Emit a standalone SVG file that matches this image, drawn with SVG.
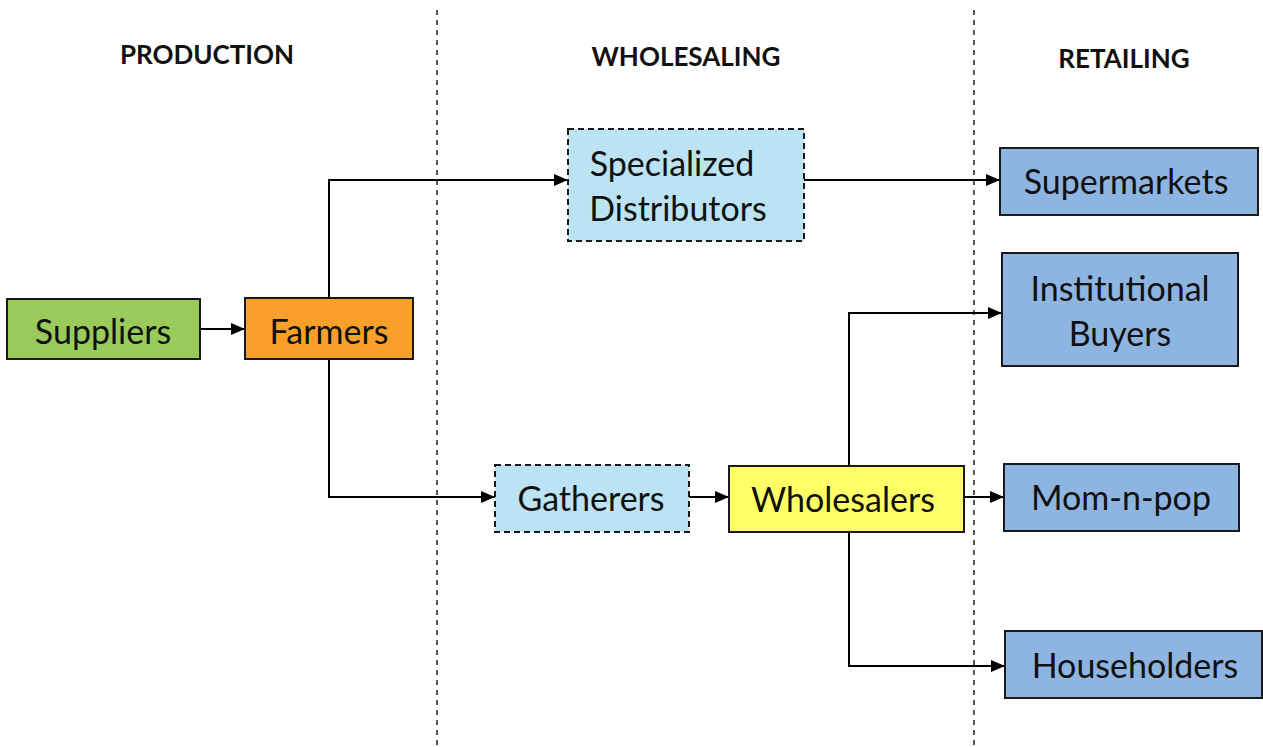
<svg xmlns="http://www.w3.org/2000/svg" width="1263" height="747" viewBox="0 0 1263 747">
<defs>
<marker id="arr" markerWidth="14" markerHeight="14" refX="14" refY="7" orient="auto" markerUnits="userSpaceOnUse" viewBox="0 0 14 14">
<path d="M0,1 L14,7 L0,13 z" fill="#000"/>
</marker>
</defs>
<style>
.box{stroke:#1a1a1a;stroke-width:2}
.dash{stroke-dasharray:6,4}
.t{font-family:Lato,"Open Sans","Liberation Sans",sans-serif;font-size:34px;fill:#111;text-anchor:middle}
.h{font-family:Lato,"Open Sans","Liberation Sans",sans-serif;font-size:26px;font-weight:bold;fill:#111;text-anchor:middle}
.c{fill:none;stroke:#000;stroke-width:2;marker-end:url(#arr)}
.div{stroke:#222;stroke-width:1.5;stroke-dasharray:5,5}
</style>
<rect width="1263" height="747" fill="#fff"/>
<line class="div" x1="437" y1="10" x2="437" y2="747"/>
<line class="div" x1="974" y1="10" x2="974" y2="747"/>
<text class="h" x="207" y="64">PRODUCTION</text>
<text class="h" x="686" y="66">WHOLESALING</text>
<text class="h" x="1124" y="68">RETAILING</text>
<g id="connectors">
<path class="c" d="M200,329 H245"/>
<path class="c" d="M329,298 V180 H568"/>
<path class="c" d="M329,359 V497 H495"/>
<path class="c" d="M689,497 H729"/>
<path class="c" d="M804,180 H1000"/>
<path class="c" d="M849,466 V313 H1002"/>
<path class="c" d="M964,497 H1004"/>
<path class="c" d="M849,532 V666 H1005"/>
</g>
<g id="suppliers"><rect class="box" x="7" y="299" width="193" height="60" fill="#9ACB5A"/><text class="t" x="103" y="344">Suppliers</text></g>
<g id="farmers"><rect class="box" x="245" y="298" width="168" height="61" fill="#F9A02A"/><text class="t" x="329" y="344">Farmers</text></g>
<g id="specialized"><rect class="box dash" x="568" y="129" width="236" height="112" fill="#BBE3F4"/><text class="t" x="672" y="176">Specialized</text><text class="t" x="678" y="221">Distributors</text></g>
<g id="gatherers"><rect class="box dash" x="495" y="465" width="194" height="67" fill="#BBE3F4"/><text class="t" x="591" y="511">Gatherers</text></g>
<g id="wholesalers"><rect class="box" x="729" y="466" width="235" height="66" fill="#FFFF66"/><text class="t" x="843" y="512">Wholesalers</text></g>
<g id="supermarkets"><rect class="box" x="1000" y="148" width="258" height="67" fill="#8EB5E2"/><text class="t" x="1126" y="194">Supermarkets</text></g>
<g id="institutional"><rect class="box" x="1002" y="253" width="236" height="113" fill="#8EB5E2"/><text class="t" x="1120" y="301">Institutional</text><text class="t" x="1120" y="346">Buyers</text></g>
<g id="momnpop"><rect class="box" x="1004" y="464" width="235" height="67" fill="#8EB5E2"/><text class="t" x="1121" y="510">Mom-n-pop</text></g>
<g id="householders"><rect class="box" x="1005" y="631" width="257" height="67" fill="#8EB5E2"/><text class="t" x="1135" y="678">Householders</text></g>
</svg>
